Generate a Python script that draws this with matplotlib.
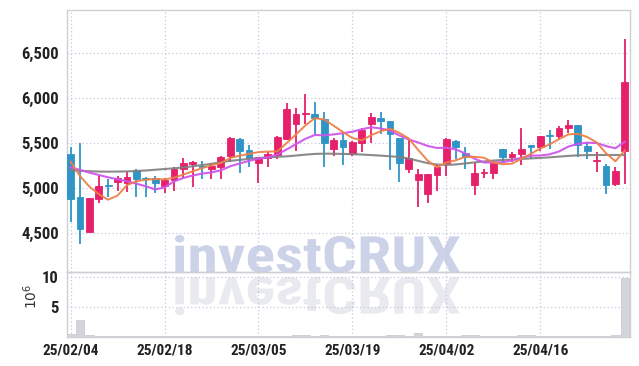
import matplotlib
matplotlib.use("Agg")
import matplotlib.pyplot as plt
from matplotlib.font_manager import FontProperties, fontManager
from matplotlib.textpath import TextPath
from matplotlib.patches import PathPatch
from matplotlib.transforms import Affine2D
import numpy as np

# daily candles, price in KRW
opens = [5381, 4904, 4519, 4885, 5030, 5074, 5056, 5204, 5115, 5119,
         5026, 5093, 5211, 5274, 5252, 5219, 5233, 5363, 5548, 5426,
         5285, 5341, 5374, 5552, 5711, 5822, 5826, 5770, 5433, 5537,
         5378, 5500, 5719, 5778, 5744, 5559, 5211, 5093, 4941, 5152,
         5285, 5526, 5389, 5037, 5167, 5174, 5437, 5352, 5385, 5481,
         5456, 5585, 5578, 5667, 5704, 5474, 5300, 5252, 5048, 5415]
highs = [5456, 5500, 4893, 5137, 5100, 5137, 5181, 5210, 5122, 5141,
         5111, 5241, 5333, 5304, 5300, 5278, 5363, 5567, 5556, 5481,
         5344, 5407, 5578, 5952, 5896, 6044, 5956, 5852, 5559, 5619,
         5530, 5674, 5833, 5844, 5744, 5559, 5556, 5219, 5159, 5259,
         5556, 5537, 5463, 5278, 5219, 5307, 5437, 5407, 5667, 5481,
         5585, 5652, 5689, 5763, 5704, 5504, 5407, 5270, 5237, 6659]
lows = [4630, 4381, 4519, 4833, 4900, 4970, 4963, 4900, 4900, 4944,
        4944, 4970, 5111, 5019, 5100, 5100, 5100, 5296, 5174, 5233,
        5063, 5233, 5322, 5537, 5415, 5711, 5604, 5233, 5363, 5256,
        5363, 5404, 5500, 5604, 5200, 5074, 5167, 4789, 4833, 4970,
        5137, 5322, 5219, 4922, 5111, 5100, 5285, 5296, 5259, 5326,
        5411, 5441, 5541, 5615, 5348, 5330, 5181, 4937, 5022, 5052]
closes = [4885, 4544, 4893, 5022, 5022, 5115, 5122, 5107, 5107, 5063,
          5093, 5219, 5278, 5293, 5237, 5248, 5348, 5559, 5419, 5341,
          5344, 5378, 5570, 5878, 5826, 5841, 5778, 5500, 5537, 5463,
          5515, 5648, 5789, 5752, 5607, 5285, 5333, 5156, 5159, 5237,
          5548, 5456, 5344, 5167, 5185, 5285, 5352, 5381, 5441, 5456,
          5585, 5578, 5674, 5704, 5485, 5411, 5319, 5037, 5196, 6178]

ma5 = [5296, 5137, 5019, 4935, 4873, 4919, 5035, 5078, 5095, 5103,
       5098, 5118, 5152, 5189, 5224, 5255, 5281, 5337, 5362, 5383,
       5402, 5408, 5410, 5502, 5599, 5699, 5779, 5765, 5696, 5624,
       5559, 5533, 5590, 5633, 5662, 5616, 5553, 5427, 5308, 5234,
       5287, 5311, 5349, 5350, 5340, 5287, 5267, 5274, 5329, 5383,
       5443, 5488, 5547, 5599, 5605, 5570, 5510, 5390, 5300, 5420]
ma10 = [5233, 5204, 5174, 5148, 5122, 5100, 5078, 5052, 5022, 4988,
        5009, 5076, 5115, 5142, 5163, 5177, 5199, 5245, 5276, 5304,
        5329, 5345, 5374, 5432, 5491, 5550, 5593, 5588, 5599, 5612,
        5629, 5656, 5678, 5665, 5643, 5587, 5543, 5509, 5471, 5448,
        5451, 5432, 5388, 5329, 5287, 5287, 5289, 5311, 5340, 5362,
        5365, 5377, 5410, 5464, 5494, 5507, 5503, 5469, 5445, 5517]
ma_long = [5200, 5195, 5190, 5186, 5185, 5186, 5188, 5192, 5198, 5206,
           5214, 5222, 5232, 5245, 5258, 5272, 5290, 5305, 5316, 5326,
           5336, 5344, 5350, 5355, 5364, 5374, 5382, 5385, 5384, 5382,
           5380, 5375, 5369, 5363, 5356, 5348, 5330, 5305, 5280, 5264,
           5259, 5265, 5276, 5288, 5298, 5308, 5315, 5320, 5326, 5332,
           5338, 5344, 5352, 5360, 5366, 5369, 5370, 5370, 5370, 5370]

# volume in millions
volume = [0.45, 2.8, 0.3, 0.15, 0.12, 0.12, 0.1, 0.15, 0.1, 0.1,
          0.12, 0.1, 0.12, 0.1, 0.1, 0.15, 0.1, 0.12, 0.12, 0.1,
          0.1, 0.1, 0.15, 0.2, 0.3, 0.3, 0.15, 0.25, 0.1, 0.1,
          0.1, 0.1, 0.12, 0.15, 0.3, 0.35, 0.2, 0.6, 0.15, 0.1,
          0.12, 0.1, 0.3, 0.35, 0.2, 0.1, 0.15, 0.1, 0.3, 0.25,
          0.1, 0.1, 0.1, 0.15, 0.12, 0.1, 0.15, 0.2, 0.25, 9.8]

date_ticks = [0, 10, 20, 30, 40, 50]
date_labels = ["25/02/04", "25/02/18", "25/03/05", "25/03/19", "25/04/02", "25/04/16"]
price_ticks = [4500, 5000, 5500, 6000, 6500]

UP = "#e6206a"
DOWN = "#2f95c6"
GRID = "#c3c8dc"
FRAME = "#cfcfd4"

# pick a narrow face if one is installed
names = {f.name for f in fontManager.ttflist}
narrow = None
for cand in ["Liberation Sans Narrow", "Roboto Condensed", "Open Sans Condensed",
             "Noto Sans Condensed", "DejaVu Sans Condensed"]:
    if cand in names:
        narrow = cand
        break
if narrow:
    tick_fp = dict(family=[narrow, "DejaVu Sans"], fontweight="bold")
else:
    tick_fp = dict(family=["DejaVu Sans"], fontweight="bold", fontstretch="condensed")

W, H = 639, 366
fig = plt.figure(figsize=(W / 100, H / 100), dpi=100)
fig.patch.set_facecolor("white")

ax = fig.add_axes([67 / W, 1 - 272 / H, 563 / W, 262 / H])
axv = fig.add_axes([67 / W, 1 - 337 / H, 563 / W, 65 / H], sharex=ax)
for a in (ax, axv):
    a.set_facecolor("none")
    for s in a.spines.values():
        s.set_color(FRAME)
        s.set_linewidth(1)
    a.tick_params(length=0, pad=6, labelcolor="#222222")
    a.grid(True, color=GRID, linestyle=(0, (1, 2)), linewidth=0.9)
    a.set_axisbelow(True)

x = np.arange(len(opens))
o = np.array(opens)
c = np.array(closes)
up = c >= o
cols = np.where(up, UP, DOWN)

ax.vlines(x, lows, highs, colors=cols, linewidth=1.3, zorder=3)
body_h = np.maximum(np.abs(c - o), 12)
body_b = np.minimum(o, c)
ax.bar(x, body_h, bottom=body_b, width=0.72, color=cols, edgecolor=cols,
       linewidth=0.6, zorder=4)

ax.plot(x, ma_long, color="#7f7f7f", lw=1.5, alpha=0.9, zorder=5)
ax.plot(x, ma10, color="#cf55ec", lw=1.5, alpha=0.95, zorder=5)
ax.plot(x, ma5, color="#ee8048", lw=1.4, alpha=0.95, zorder=6)

ax.set_ylim(4070, 6981)
ax.set_yticks(price_ticks)
ax.set_yticklabels([f"{p:,}" for p in price_ticks], fontsize=12, **tick_fp)
ax.set_xlim(-0.38, 59.55)
ax.set_xticks(date_ticks)
plt.setp(ax.get_xticklabels(), visible=False)

axv.bar(x, volume, width=0.9, color="#d4d4dc", edgecolor="#c4c4cc",
        linewidth=0.5, zorder=3)
axv.set_ylim(0, 10.83)
axv.set_yticks([5, 10])
axv.set_yticklabels(["5", "10"], fontsize=12, **tick_fp)
axv.set_xticks(date_ticks)
axv.set_xticklabels(date_labels, fontsize=11, **tick_fp)
axv.tick_params(axis="x", pad=5)
fig.text(31 / W, 1 - 296 / H, r"$10^6$", rotation=90, fontsize=10,
         color="#333333", ha="center", va="center")

# watermark with reflection
fp = FontProperties(family=tick_fp["family"], weight="bold",
                    stretch=tick_fp.get("fontstretch", "normal"))
tp = TextPath((0, 0), "investCRUX", size=1, prop=fp)
ext = tp.get_extents()
x0, x1, y0, y1 = 175, 460, 235, 273
sx = (x1 - x0) / ext.width
sy = (y1 - y0) / ext.height
to_fig = Affine2D().scale(1 / W, 1 / H) + fig.transFigure
main_tf = Affine2D().translate(-ext.x0, -ext.y0).scale(sx, sy).translate(x0, H - y1)
refl_tf = Affine2D().translate(-ext.x0, -ext.y0).scale(sx, -sy).translate(x0, H - 277)
fig.add_artist(PathPatch(tp, transform=main_tf + to_fig, facecolor="#ccd2e7",
                         edgecolor="none", zorder=-1))
fig.add_artist(PathPatch(tp, transform=refl_tf + to_fig, facecolor="#e9e9f0",
                         edgecolor="none", zorder=-1))

fig.savefig("out.png", dpi=100, facecolor="white")
